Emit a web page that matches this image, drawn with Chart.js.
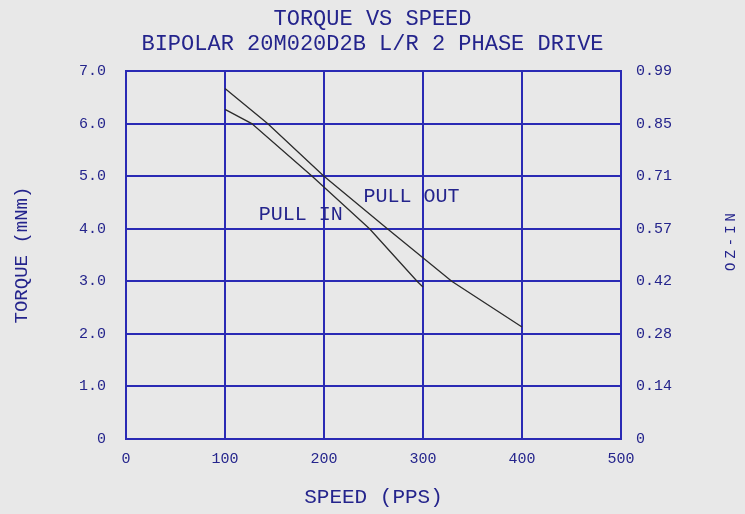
<!DOCTYPE html>
<html>
<head>
<meta charset="utf-8">
<script src="https://cdn.jsdelivr.net/npm/chart.js@4"></script>
<style>
  html, body { margin: 0; padding: 0; background: #e8e8e8; }
  #wrap { width: 745px; height: 514px; }
</style>
</head>
<body>
<div id="wrap"><canvas id="torqueChart" width="745" height="514"></canvas></div>
<script>
// Dados (velocidade em PPS, torque em mNm)
const pullOutSpeed = [100, 143, 200, 264, 329, 400];
const pullOutTorque = [6.67, 6.0, 5.0, 4.0, 3.0, 2.13];
const pullInSpeed = [100, 127, 188, 246, 294, 300];
const pullInTorque = [6.27, 6.0, 5.0, 4.0, 3.0, 2.89];

// Rótulos dos eixos
const speedTicks = ['0', '100', '200', '300', '400', '500'];
const torqueTicks = ['0', '1.0', '2.0', '3.0', '4.0', '5.0', '6.0', '7.0'];
const ozInTicks = ['0', '0.14', '0.28', '0.42', '0.57', '0.71', '0.85', '0.99'];

// Textos das curvas
const curveNames = ['PULL OUT', 'PULL IN'];
const curveLabelSpeed = [240, 134];
const curveLabelTorque = [4.6, 4.26];

const navy = '#24248c';
const gridBlue = '#2a2ab4';
const lineColor = '#2b2b2b';
const mono = "'Liberation Mono', 'DejaVu Sans Mono', monospace";

function toPoints(xs, ys) {
  return xs.map((x, i) => ({ x: x, y: ys[i] }));
}

// Plugin para o rótulo do eixo direito e os nomes das curvas
const extraText = {
  id: 'extraText',
  afterDraw(chart) {
    const ctx = chart.ctx;
    const xs = chart.scales.x;
    const ys = chart.scales.y;
    ctx.save();
    ctx.fillStyle = navy;
    ctx.font = '20px ' + mono;
    ctx.textAlign = 'left';
    ctx.textBaseline = 'middle';
    curveNames.forEach((name, i) => {
      ctx.fillText(name, xs.getPixelForValue(curveLabelSpeed[i]), ys.getPixelForValue(curveLabelTorque[i]));
    });
    // OZ-IN (lido de baixo para cima)
    ctx.translate(731, 242);
    ctx.rotate(-Math.PI / 2);
    ctx.textAlign = 'center';
    ctx.font = '14px ' + mono;
    ctx.letterSpacing = '4px';
    ctx.fillText('OZ-IN', 2, 0);
    ctx.restore();
  }
};

const ctx = document.getElementById('torqueChart').getContext('2d');
new Chart(ctx, {
  type: 'scatter',
  data: {
    datasets: [{
      label: 'PULL OUT',
      data: toPoints(pullOutSpeed, pullOutTorque),
      showLine: true,
      borderColor: lineColor,
      borderWidth: 1.3,
      pointRadius: 0,
      tension: 0
    }, {
      label: 'PULL IN',
      data: toPoints(pullInSpeed, pullInTorque),
      showLine: true,
      borderColor: lineColor,
      borderWidth: 1.3,
      pointRadius: 0,
      tension: 0
    }]
  },
  options: {
    responsive: false,
    animation: false,
    layout: { padding: 0 },
    plugins: {
      legend: { display: false },
      tooltip: { enabled: false },
      title: {
        display: true,
        text: ['TORQUE VS SPEED', 'BIPOLAR 20M020D2B L/R 2 PHASE DRIVE'],
        color: navy,
        font: { family: mono, size: 22, weight: 'normal', lineHeight: 1.16 },
        padding: { top: 6, bottom: 14 }
      }
    },
    scales: {
      x: {
        type: 'linear',
        min: 0,
        max: 500,
        afterFit: s => { s.height = 75; },
        ticks: {
          stepSize: 100,
          color: navy,
          font: { family: mono, size: 15 },
          padding: 11,
          maxRotation: 0,
          callback: (v, i) => speedTicks[i]
        },
        grid: { color: gridBlue, lineWidth: 2, drawTicks: false },
        border: { color: gridBlue, width: 2 },
        title: {
          display: true,
          text: 'SPEED (PPS)',
          color: navy,
          font: { family: mono, size: 21, lineHeight: 1.2 },
          padding: { top: 0, bottom: 4.4 }
        }
      },
      y: {
        position: 'left',
        min: 0,
        max: 7,
        afterFit: s => { s.width = 126; },
        ticks: {
          stepSize: 1,
          color: navy,
          font: { family: mono, size: 15 },
          padding: 20,
          callback: (v, i) => torqueTicks[i]
        },
        grid: { color: gridBlue, lineWidth: 2, drawTicks: false },
        border: { color: gridBlue, width: 2 },
        title: {
          display: true,
          text: 'TORQUE (mNm)',
          color: navy,
          font: { family: mono, size: 19, lineHeight: 1.2 },
          padding: { top: 11, bottom: 0 }
        }
      },
      y2: {
        position: 'right',
        min: 0,
        max: 7,
        afterFit: s => { s.width = 124; },
        ticks: {
          stepSize: 1,
          color: navy,
          font: { family: mono, size: 15 },
          padding: 15,
          callback: (v, i) => ozInTicks[i]
        },
        grid: { display: false, drawTicks: false },
        border: { color: gridBlue, width: 2 }
      }
    }
  },
  plugins: [extraText]
});
</script>
</body>
</html>
